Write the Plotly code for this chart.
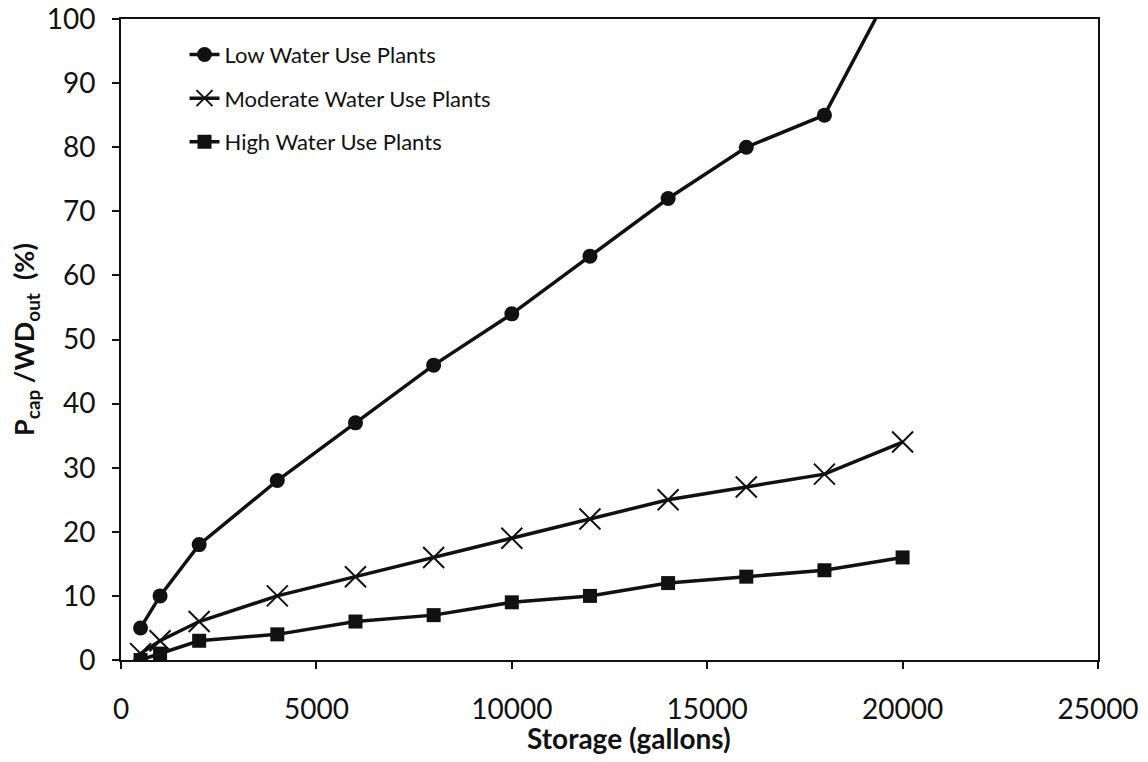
import plotly.graph_objects as go

storage = [500, 1000, 2000, 4000, 6000, 8000, 10000, 12000, 14000, 16000, 18000, 20000]
low_use = [5, 10, 18, 28, 37, 46, 54, 63, 72, 80, 85, 108]
moderate_use = [1, 3, 6, 10, 13, 16, 19, 22, 25, 27, 29, 34]
high_use = [0, 1, 3, 4, 6, 7, 9, 10, 12, 13, 14, 16]

FONT = "Lato"
INK = "#111111"

fig = go.Figure()
fig.add_trace(go.Scatter(
    x=storage, y=low_use, name="Low Water Use Plants", mode="lines+markers",
    line=dict(color=INK, width=3.5), marker=dict(symbol="circle", size=15, color=INK),
    legendgroup="a"))
fig.add_trace(go.Scatter(
    x=storage, y=moderate_use, name="Moderate Water Use Plants", mode="lines+markers",
    line=dict(color=INK, width=3.5),
    marker=dict(symbol="x-thin-open", size=21, color=INK, line=dict(color=INK, width=2)),
    legendgroup="b"))
fig.add_trace(go.Scatter(
    x=storage, y=high_use, name="High Water Use Plants", mode="lines+markers",
    line=dict(color=INK, width=3.5), marker=dict(symbol="square", size=14, color=INK),
    legendgroup="c"))

axis_common = dict(
    showgrid=False, zeroline=False, showline=True, linecolor=INK, linewidth=2,
    mirror=True, ticks="outside", ticklen=7, tickwidth=2, tickcolor=INK,
    tickfont=dict(family=FONT, size=28, color=INK),
)
fig.update_xaxes(range=[0, 25000], dtick=5000, tick0=0, tickformat="d",
                 ticklabelstandoff=16,
                 **axis_common)
fig.update_yaxes(range=[0, 100], dtick=10, tick0=0, tickformat="d",
                 ticklabelstandoff=11,
                 title=dict(text="<b>P<sub>cap</sub> /WD<sub>out</sub>  (%)</b>", font=dict(family=FONT, size=27, color=INK), standoff=4),
                 **axis_common)

fig.add_annotation(
    text="<b>Storage (gallons)</b>", xref="paper", yref="paper",
    x=0.52, y=-0.1217, xanchor="center", yanchor="middle", showarrow=False,
    font=dict(family=FONT, size=28, color=INK))

fig.update_layout(
    width=1148, height=762,
    margin=dict(l=121, r=50, t=19, b=102, autoexpand=False),
    plot_bgcolor="white", paper_bgcolor="white",
    font=dict(family=FONT, color=INK),
    legend=dict(x=0.065, y=0.977, xanchor="left", yanchor="top",
                font=dict(family=FONT, size=22, color=INK),
                traceorder="grouped", tracegroupgap=12, bgcolor="rgba(0,0,0,0)"),
)

fig.write_html("out.html")
